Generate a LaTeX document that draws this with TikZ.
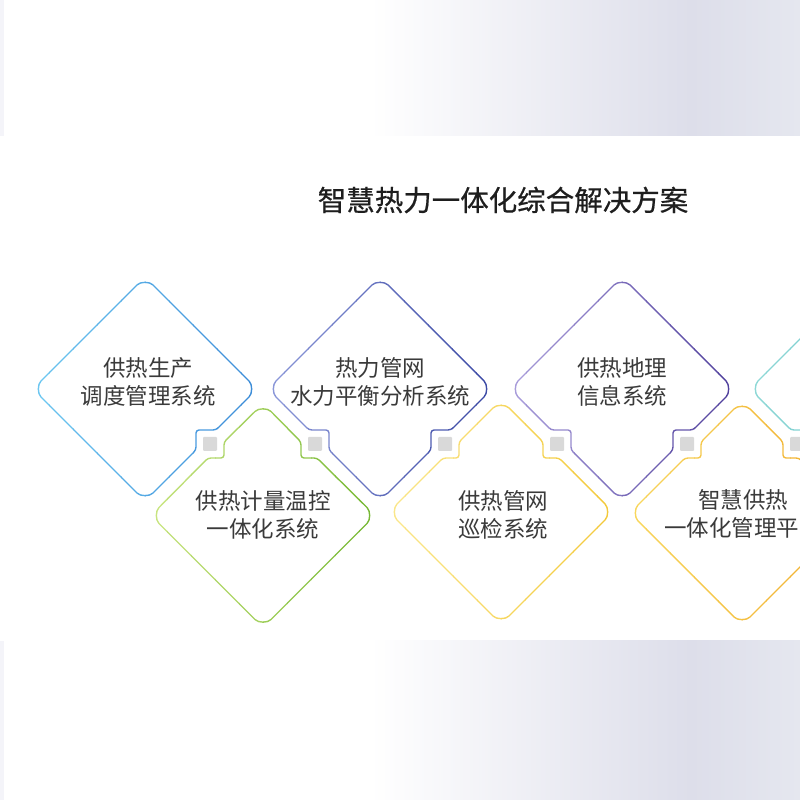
\documentclass[tikz,border=0pt]{standalone}
\usepackage{fontspec}
\usepackage{tikz}
\usetikzlibrary{calc}

\newfontfamily\cjk{Noto Sans CJK SC}
\newfontfamily\cjkhead[FakeBold=0.6]{Noto Sans CJK SC}

\definecolor{bandlav}{HTML}{DDDEEA}
\definecolor{bandend}{HTML}{E5E7EF}
\definecolor{bandedge}{HTML}{F4F4F9}
\definecolor{jointgrey}{HTML}{D9D9D9}
\definecolor{textgrey}{HTML}{3A3A3A}
\definecolor{headgrey}{HTML}{1E1E1E}
\definecolor{blueL}{HTML}{6CC6F0}
\definecolor{blueD}{HTML}{3D8CD8}
\definecolor{indigoL}{HTML}{8A96D8}
\definecolor{indigoD}{HTML}{3B49A4}
\definecolor{purpleL}{HTML}{A89CDA}
\definecolor{purpleD}{HTML}{50409C}
\definecolor{tealL}{HTML}{8ED8D6}
\definecolor{tealD}{HTML}{5DBEC2}
\definecolor{limeL}{HTML}{C8E480}
\definecolor{limeD}{HTML}{76B834}
\definecolor{yellowL}{HTML}{FAE68A}
\definecolor{yellowD}{HTML}{F3C93A}
\definecolor{amberL}{HTML}{F8D65C}
\definecolor{amberD}{HTML}{F0AC2C}

\tikzset{
  rim/.style={line width=1.4pt, rounded corners=3pt},
  joint/.style={fill=jointgrey, rounded corners=1pt, minimum size=14pt, inner sep=0pt},
  boxtext/.style={font=\cjk\fontsize{22.5}{28}\selectfont, text=textgrey, align=center, inner sep=0pt},
}

% size of the diamonds
\def\RR{112}
\def\kk{10}

% the steps cut round a joint
\newcommand{\cutLR}[1]{-- ($(#1)+(6,14)$) -- ($(#1)+(-14,14)$) -- ($(#1)+(-14,-6)$)}
\newcommand{\cutLL}[1]{-- ($(#1)+(14,-6)$) -- ($(#1)+(14,14)$) -- ($(#1)+(-6,14)$)}
\newcommand{\cutUL}[1]{-- ($(#1)+(-2,-14)$) -- ($(#1)+(14,-14)$) -- ($(#1)+(14,2)$)}
\newcommand{\cutUR}[1]{-- ($(#1)+(-14,2)$) -- ($(#1)+(-14,-14)$) -- ($(#1)+(2,-14)$)}

% upper row: #1 centre, #2 cut on lower left, #3 cut on lower right
\newcommand{\upperframe}[3]{($(#1)+(-\kk,\RR-\kk)$) to[out=45,in=135] ($(#1)+(\kk,\RR-\kk)$)
  -- ($(#1)+(\RR-\kk,\kk)$) to[out=-45,in=45] ($(#1)+(\RR-\kk,-\kk)$)
  #3
  -- ($(#1)+(\kk,-\RR+\kk)$) to[out=-135,in=-45] ($(#1)+(-\kk,-\RR+\kk)$)
  #2
  -- ($(#1)+(-\RR+\kk,-\kk)$) to[out=135,in=-135] ($(#1)+(-\RR+\kk,\kk)$)
  -- cycle}

% lower row: #1 centre, #2 cut on upper left, #3 cut on upper right
\newcommand{\lowerframe}[3]{($(#1)+(-\kk,\RR-\kk)$) to[out=45,in=135] ($(#1)+(\kk,\RR-\kk)$)
  #3
  -- ($(#1)+(\RR-\kk,\kk)$) to[out=-45,in=45] ($(#1)+(\RR-\kk,-\kk)$)
  -- ($(#1)+(\kk,-\RR+\kk)$) to[out=-135,in=-45] ($(#1)+(-\kk,-\RR+\kk)$)
  -- ($(#1)+(-\RR+\kk,-\kk)$) to[out=135,in=-135] ($(#1)+(-\RR+\kk,\kk)$)
  #2
  -- cycle}

% stroke a frame from a light colour (left) to a dark one (right)
\newcommand{\shadedframe}[4]{%
  \foreach \s in {0,...,9} {
    \pgfmathtruncatemacro{\mix}{100-11*\s}
    \begin{scope}
      \clip ({#3-120+24*\s},0) rectangle ++(24.5,800);
      \draw[rim, draw=#1!\mix!#2] #4;
    \end{scope}
  }}

\begin{document}
\begin{tikzpicture}[x=1pt, y=1pt]
    \useasboundingbox (0,0) rectangle (800,800);

    % Draw the bands at top and bottom
    \foreach \y in {0,664} {
        \shade[left color=white, right color=bandlav] (370,\y) rectangle (691,\y+136);
        \shade[left color=bandlav, right color=bandend] (690,\y) rectangle (800,\y+136);
        \fill[bandedge] (0,\y) rectangle (4,\y+136);
    }
    \shade[left color=white, right color=bandlav] (370,136) rectangle (691,159);
    \shade[left color=bandlav, right color=bandend] (690,136) rectangle (800,159);
    \fill[bandedge] (0,136) rectangle (4,159);

    % Title
    \node[font=\cjkhead\fontsize{28.5}{32}\selectfont, text=headgrey, inner sep=0pt] (title) at (503,600) {智慧热力一体化综合解决方案};

    % Centres of the diamonds and of the joints
    \foreach \n/\x in {1/145,2/380,3/622,4/862} {
        \coordinate (T\n) at (\x,411);
    }
    \coordinate (B1) at (263,284.5);
    \coordinate (B2) at (501,288);
    \coordinate (B3) at (742,287);
    \foreach \n/\x in {1/210,2/315,3/445,4/557,5/687,6/797} {
        \coordinate (S\n) at (\x,356);
    }

    % Draw the upper diamonds
    \shadedframe{blueL}{blueD}{145}{\upperframe{T1}{}{\cutLR{S1}}}
    \shadedframe{indigoL}{indigoD}{380}{\upperframe{T2}{\cutLL{S2}}{\cutLR{S3}}}
    \shadedframe{purpleL}{purpleD}{622}{\upperframe{T3}{\cutLL{S4}}{\cutLR{S5}}}
    \shadedframe{tealL}{tealD}{862}{\upperframe{T4}{\cutLL{S6}}{}}

    % Draw the lower diamonds
    \shadedframe{limeL}{limeD}{263}{\lowerframe{B1}{\cutUL{S1}}{\cutUR{S2}}}
    \shadedframe{yellowL}{yellowD}{501}{\lowerframe{B2}{\cutUL{S3}}{\cutUR{S4}}}
    \shadedframe{amberL}{amberD}{742}{\lowerframe{B3}{\cutUL{S5}}{\cutUR{S6}}}

    % Joints
    \foreach \n in {1,...,6} {
        \node[joint] (J\n) at (S\n) {};
    }

    % Labels
    \node[boxtext] (t1) at (148,418) {供热生产\\调度管理系统};
    \node[boxtext] (t2) at (380,418) {热力管网\\水力平衡分析系统};
    \node[boxtext] (t3) at (622,418) {供热地理\\信息系统};
    \node[boxtext] (b1) at (263,285) {供热计量温控\\一体化系统};
    \node[boxtext] (b2) at (503,285) {供热管网\\巡检系统};
    \node[boxtext] (b3) at (743,286) {智慧供热\\一体化管理平台};
\end{tikzpicture}
\end{document}
